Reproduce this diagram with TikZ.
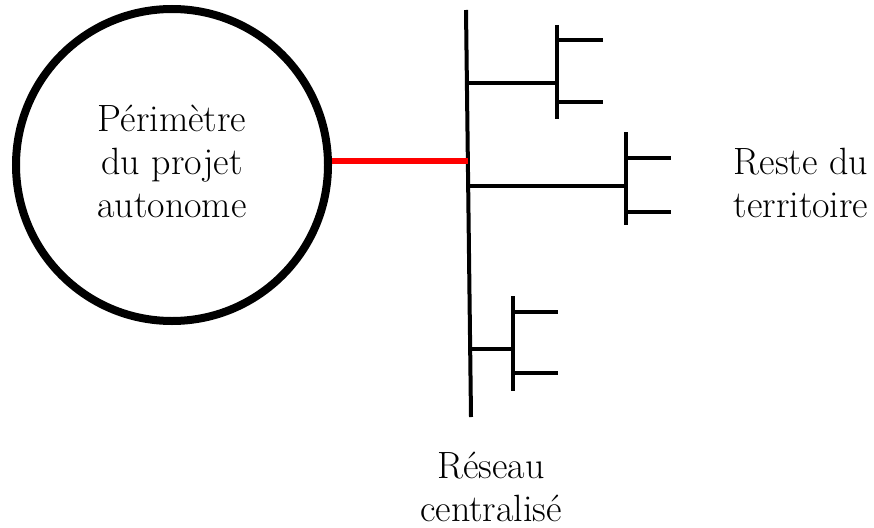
\documentclass[tikz,border=0pt]{standalone}
\usepackage{fontspec}
\begin{document}
\begin{tikzpicture}[x=1pt,y=-1pt,
  lbl/.style={align=center,font=\fontsize{38}{43}\selectfont,inner sep=0pt},
  wire/.style={line width=4pt},
  link/.style={line width=6pt,red}]
\useasboundingbox (0,0) rectangle (874,527);
% project perimeter
\node[circle,draw,line width=8pt,minimum size=312pt,inner sep=0pt] (perim) at (172,165) {};
\node[lbl,anchor=base] (ptxt) at (172,217) {Périmètre\\du projet\\autonome};
% main network line
\coordinate (mt) at (466,10);
\coordinate (mb) at (471,417);
\draw[wire] (mt) -- (mb);
\coordinate (jr) at (468,161);
\coordinate (j1) at (467.5,83);
\coordinate (j2) at (469,186);
\coordinate (j3) at (470,349);
% red link
\draw[link] (perim.east |- jr) -- (jr);
% branch 1
\coordinate (b1) at (557,83);
\coordinate (b1t) at (557,25);
\coordinate (b1b) at (557,119);
\coordinate (s1a) at (557,40); \coordinate (e1a) at (603,40);
\coordinate (s1b) at (557,102); \coordinate (e1b) at (603,102);
\draw[wire] (j1) -- (b1);
\draw[wire] (b1t) -- (b1b);
\draw[wire] (s1a) -- (e1a);
\draw[wire] (s1b) -- (e1b);
% branch 2
\coordinate (b2) at (626,186);
\coordinate (b2t) at (626,132);
\coordinate (b2b) at (626,225);
\coordinate (s2a) at (626,158); \coordinate (e2a) at (671,158);
\coordinate (s2b) at (626,212); \coordinate (e2b) at (671,212);
\draw[wire] (j2) -- (b2);
\draw[wire] (b2t) -- (b2b);
\draw[wire] (s2a) -- (e2a);
\draw[wire] (s2b) -- (e2b);
% branch 3
\coordinate (b3) at (513,349);
\coordinate (b3t) at (513,296);
\coordinate (b3b) at (513,391);
\coordinate (s3a) at (513,312); \coordinate (e3a) at (558,312);
\coordinate (s3b) at (513,373); \coordinate (e3b) at (558,373);
\draw[wire] (j3) -- (b3);
\draw[wire] (b3t) -- (b3b);
\draw[wire] (s3a) -- (e3a);
\draw[wire] (s3b) -- (e3b);
% labels
\node[lbl,anchor=base] (rtxt) at (801,217) {Reste du\\territoire};
\node[lbl,anchor=base] (ctxt) at (491,521) {Réseau\\centralisé};
\end{tikzpicture}
\end{document}
